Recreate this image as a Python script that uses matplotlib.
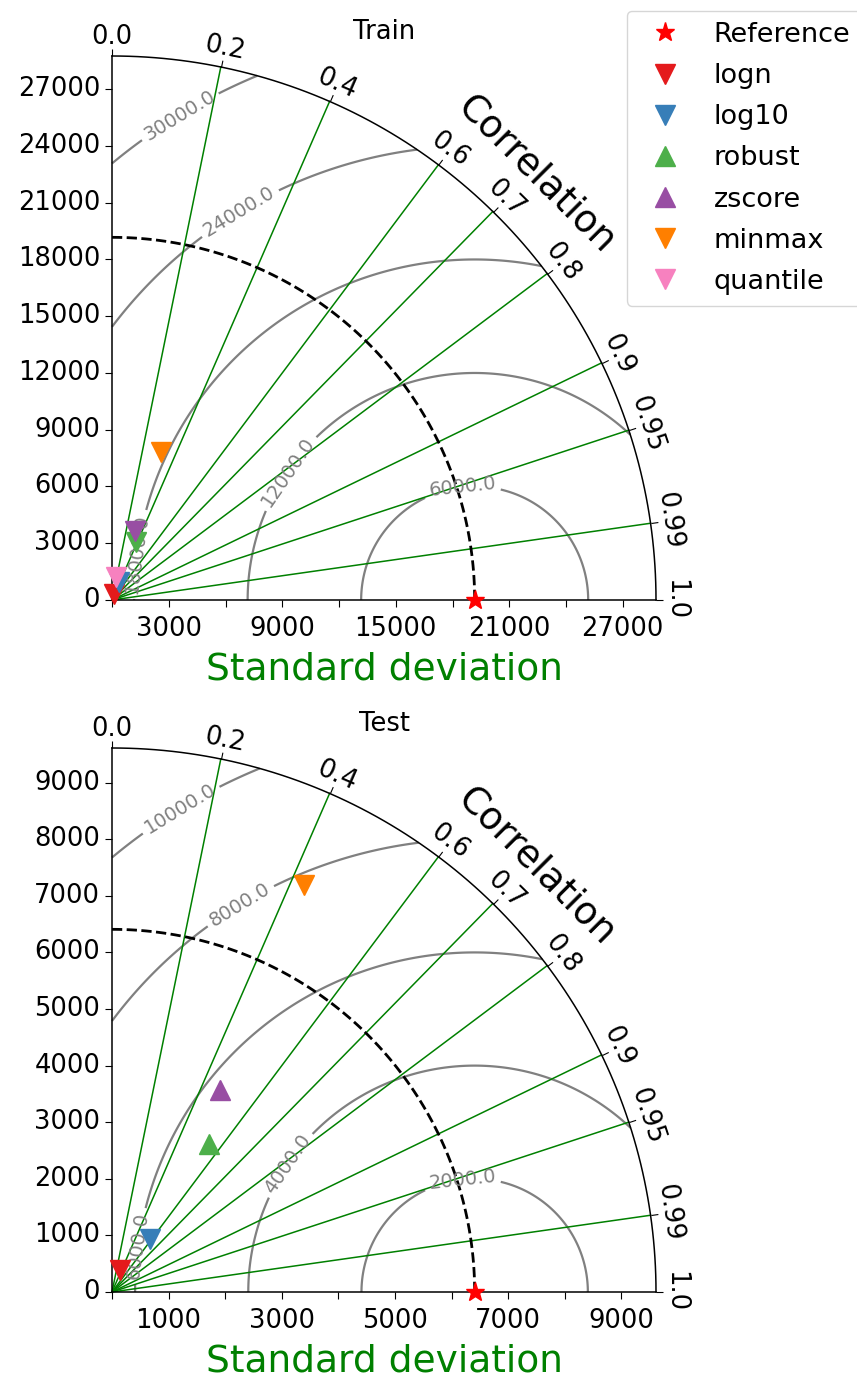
import numpy as np
import matplotlib
matplotlib.use("Agg")
import matplotlib.pyplot as plt
from matplotlib.projections import PolarAxes
from matplotlib.transforms import offset_copy
import mpl_toolkits.axisartist.floating_axes as FA
import mpl_toolkits.axisartist.grid_finder as GF

methods = ["logn", "log10", "robust", "zscore", "minmax", "quantile"]
colors = ["#e41a1c", "#377eb8", "#4daf4a", "#984ea3", "#ff7f00", "#f781bf"]

corr_ticks = [0.0, 0.2, 0.4, 0.6, 0.7, 0.8, 0.9, 0.95, 0.99, 1.0]
corr_lines = [0.2, 0.4, 0.6, 0.7, 0.8, 0.9, 0.95, 0.99]

# Train
train_ref_std = 19170
train_std = [330, 1030, 3310, 3860, 8270, 1255]
train_corr = [0.25, 0.38, 0.39, 0.31, 0.315, 0.18]
train_bias_pos = [False, False, False, False, False, False]
train_rms_levels = [6000, 12000, 18000, 24000, 30000]
train_std_ticks = np.arange(0, 27001, 3000)

# Test (quantile not visible in the test panel)
test_ref_std = 6408
test_std = [407, 1150, 3128, 4050, 7956, np.nan]
test_corr = [0.334, 0.58, 0.549, 0.472, 0.426, np.nan]
test_bias_pos = [False, False, True, True, False, False]
test_rms_levels = [2000, 4000, 6000, 8000, 10000]
test_std_ticks = np.arange(0, 9001, 1000)

# where the rms labels sit: (theta, r / ref_std)
rms_label_spots = [(0.314, 1.015), (0.63, 0.6), (1.06, 0.145), (1.25, 1.123), (1.43, 1.345)]

FS = 18.5
W, H = 857, 1377
R = 544  # quarter-circle radius in pixels


def taylor(fig, origin, title, ref_std, stds, corrs, bias_pos, levels, ticks):
    smax = 1.5 * ref_std
    tr = PolarAxes.PolarTransform(apply_theta_transforms=False)
    tlocs = np.arccos(corr_ticks)
    gl1 = GF.FixedLocator(tlocs)
    tf1 = GF.DictFormatter(dict(zip(tlocs, map(str, corr_ticks))))
    gl2 = GF.FixedLocator(ticks)
    tf2 = GF.DictFormatter({t: str(int(t)) for t in ticks})
    gh = FA.GridHelperCurveLinear(tr, extremes=(0, np.pi / 2, 0, smax),
                                  grid_locator1=gl1, tick_formatter1=tf1,
                                  grid_locator2=gl2, tick_formatter2=tf2)
    # floating axes pad their limits by 2%, so widen the box to keep R
    x0, y0 = origin
    side = R * 1.02
    pad = R * 0.01
    rect = [(x0 - pad) / W, (H - y0 - pad) / H, side / W, side / H]
    ax = FA.FloatingAxes(fig, rect, grid_helper=gh)
    fig.add_axes(ax)

    ax.axis["top"].set_axis_direction("bottom")
    ax.axis["top"].toggle(ticklabels=True, label=True)
    ax.axis["top"].major_ticklabels.set_axis_direction("top")
    ax.axis["top"].label.set_axis_direction("top")
    ax.axis["top"].label.set_text("Correlation")
    ax.axis["top"].label.set_fontsize(27)

    ax.axis["left"].set_axis_direction("bottom")
    ax.axis["left"].toggle(ticklabels=False, label=False)

    ax.axis["right"].set_axis_direction("top")
    ax.axis["right"].toggle(ticklabels=True)
    ax.axis["right"].major_ticklabels.set_axis_direction("left")
    ax.axis["bottom"].set_visible(False)

    for s in ["top", "left", "right"]:
        ax.axis[s].major_ticklabels.set_fontsize(FS)
        ax.axis[s].major_ticks.set_tick_out(True)
        ax.axis[s].major_ticks.set_ticksize(5)
        ax.axis[s].line.set_linewidth(1.1)

    aux = ax.get_aux_axes(tr)

    # centred rms contours
    rs, ts = np.meshgrid(np.linspace(0, smax, 300), np.linspace(0, np.pi / 2, 300))
    rms = np.sqrt(ref_std ** 2 + rs ** 2 - 2 * ref_std * rs * np.cos(ts))
    cs = aux.contour(ts, rs, rms, levels, colors="0.5", linewidths=1.6)
    aux.clabel(cs, inline=True, fontsize=14, fmt="%1.1f",
               manual=[(t, f * ref_std) for t, f in rms_label_spots])

    for c in corr_lines:
        aux.plot([np.arccos(c)] * 2, [0, smax], color="green", lw=1.1)

    t = np.linspace(0, np.pi / 2, 100)
    aux.plot(t, np.full_like(t, ref_std), "k--", lw=2)
    aux.plot([0], [ref_std], "r*", ms=14, ls="", label="Reference", clip_on=False, zorder=5)

    for name, col, s, c, up in zip(methods, colors, stds, corrs, bias_pos):
        aux.plot(np.arccos(c), s, marker="^" if up else "v", ms=14, ls="",
                 color=col, label=name, clip_on=False, zorder=5)

    # x-axis labels only on every other tick
    lab_tr = offset_copy(aux.transData, fig=fig, y=-11.5, units="points")
    for tk in ticks[1::2]:
        ax.text(0, tk, str(tk), transform=lab_tr, ha="center", va="top", fontsize=FS)

    xl_tr = offset_copy(aux.transData, fig=fig, y=-79 * 0.72, units="points")
    ax.text(0, smax / 2, "Standard deviation", transform=xl_tr,
            ha="center", va="baseline", color="green", fontsize=27)
    ax.set_title(title, fontsize=FS, pad=8)
    return ax, aux


fig = plt.figure(figsize=(W / 100, H / 100), dpi=100)
ax1, aux1 = taylor(fig, (112, 600), "Train",
                   train_ref_std, train_std, train_corr, train_bias_pos,
                   train_rms_levels, train_std_ticks)
ax2, aux2 = taylor(fig, (112, 1292), "Test",
                   test_ref_std, test_std, test_corr, test_bias_pos,
                   test_rms_levels, test_std_ticks)

handles, labels = aux2.get_legend_handles_labels()
fig.legend(handles, labels, loc="upper left", bbox_to_anchor=(627 / W, 1 - 11 / H),
           borderaxespad=0, fontsize=19.5, numpoints=1, labelspacing=0.56)

fig.savefig("out.png", dpi=100)
